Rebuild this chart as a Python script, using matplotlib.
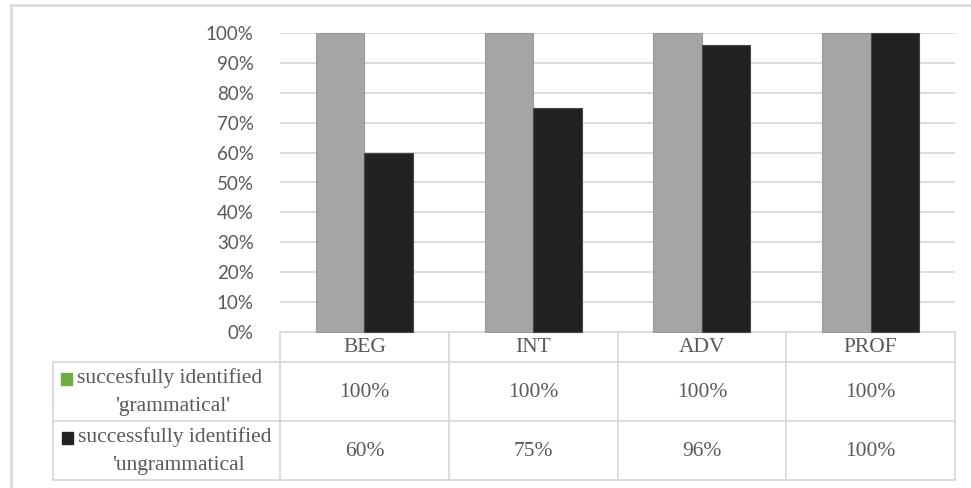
import matplotlib
matplotlib.use("Agg")
import matplotlib.pyplot as plt
from matplotlib.lines import Line2D
from matplotlib.patches import Rectangle
import numpy as np

# Data
categories = ["BEG", "INT", "ADV", "PROF"]
grammatical = [100, 100, 100, 100]
ungrammatical = [60, 75, 96, 100]
series_labels = [("succesfully identified", "'grammatical'"),
                 ("successfully identified", "'ungrammatical")]
series_marker_colors = ["#70AD47", "#222222"]
yticks = list(range(0, 101, 10))

W, H = 971, 488
plt.rcParams["font.family"] = ["Liberation Serif", "DejaVu Serif"]
fig = plt.figure(figsize=(W / 100, H / 100), dpi=100)
text_color = "#595959"
grid_color = "#D9D9D9"
tick_font = ["Lato", "DejaVu Sans"]
tick_fs = 13.5
fs = 15.5

# Plot area in pixel coordinates
px_left, px_right, px_top, px_bottom = 280, 955, 33, 332
ax = fig.add_axes([px_left / W, 1 - px_bottom / H,
                   (px_right - px_left) / W, (px_bottom - px_top) / H])

x = np.arange(len(categories))
bw = 0.288
ax.bar(x - bw / 2, grammatical, bw, color="#A5A5A5", edgecolor="#9A9A9A",
       linewidth=0.8, zorder=3, clip_on=False)
ax.bar(x + bw / 2, ungrammatical, bw, color="#222222", edgecolor="#474747",
       linewidth=0.8, zorder=3, clip_on=False)

ax.set_xlim(-0.5, len(categories) - 0.5)
ax.set_ylim(0, 100)
ax.set_yticks(yticks)
ax.set_yticklabels([f"{t}%" for t in yticks], fontsize=tick_fs,
                   color=text_color, family=tick_font)
ax.tick_params(axis="y", length=0, pad=19)
ax.set_xticks([])
ax.yaxis.grid(True, color=grid_color, linewidth=1.3, zorder=0)
for s in ax.spines.values():
    s.set_visible(False)

# Overlay in pixel space for the frame and the data table
ov = fig.add_axes([0, 0, 1, 1], zorder=-1)
ov.set_xlim(0, W)
ov.set_ylim(H, 0)
ov.axis("off")

def hline(x0, x1, y, lw=1.3, c=grid_color):
    ov.add_line(Line2D([x0, x1], [y, y], color=c, linewidth=lw))

def vline(x0, y0, y1, lw=1.3, c=grid_color):
    ov.add_line(Line2D([x0, x0], [y0, y1], color=c, linewidth=lw))

# Outer frame
hline(11, W, 5, lw=1.8)
vline(11, 5, H, lw=1.8)

# Table grid
tab_left = 53
header_top, row1_top, row2_top, tab_bottom = 332, 362, 421, 480
col_w = (px_right - px_left) / len(categories)
col_edges = [px_left + i * col_w for i in range(len(categories) + 1)]
hline(px_left, px_right, header_top)
hline(tab_left, px_right, row1_top)
hline(tab_left, px_right, row2_top)
hline(tab_left, px_right, tab_bottom)
for cx in col_edges:
    vline(cx, header_top, tab_bottom)
vline(tab_left, row1_top, tab_bottom)

# Header labels
for i, cat in enumerate(categories):
    ov.text(px_left + (i + 0.5) * col_w, (header_top + row1_top) / 2 + 1, cat,
            ha="center", va="center", fontsize=fs, color=text_color)

# Row labels with colour keys and values
rows = [(row1_top, row2_top, grammatical), (row2_top, tab_bottom, ungrammatical)]
label_cx = [170, 175]
for (top, bot, vals), (l1, l2), mc, lcx in zip(rows, series_labels,
                                              series_marker_colors, label_cx):
    cy = (top + bot) / 2
    y1, y2 = cy - 13, cy + 15
    t1 = ov.text(lcx, y1, l1, ha="center", va="center", fontsize=fs,
                 color=text_color)
    ov.text(lcx + 3, y2, l2, ha="center", va="center", fontsize=fs,
            color=text_color)
    # colour key sits just left of the first line
    fig.canvas.draw()
    bb = t1.get_window_extent()
    x_start = bb.x0  # display pixels == figure pixels here
    ov.add_patch(Rectangle((x_start - 16, y1 - 6), 11, 12, color=mc))
    for i, v in enumerate(vals):
        ov.text(px_left + (i + 0.5) * col_w, cy + 1, f"{v}%", ha="center",
                va="center", fontsize=fs, color=text_color)

fig.savefig("out.png", dpi=100)
